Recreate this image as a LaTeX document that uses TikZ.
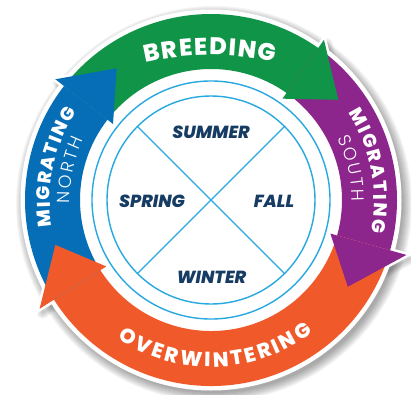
\documentclass[tikz,border=0pt]{standalone}
\usepackage{fontspec}
\setmainfont{Poppins}
\newfontfamily\lightfont{Poppins Light}
\newfontfamily\heavyfont{Poppins ExtraBold}[ItalicFont={Poppins ExtraBold Italic}]
\usetikzlibrary{decorations.text}

\definecolor{breedgreen}{RGB}{16,148,72}
\definecolor{northblue}{RGB}{6,110,182}
\definecolor{southpurple}{RGB}{140,38,140}
\definecolor{winterorange}{RGB}{240,90,42}
\definecolor{seasonnavy}{RGB}{22,60,100}
\definecolor{ringline}{RGB}{40,168,224}

\tikzset{
  arctext/.style={decorate, decoration={text along path, text align=fit to path, text={#1}}},
  seasonlabel/.style={text=seasonnavy, font=\heavyfont\itshape\fontsize{17.5}{18}\selectfont, anchor=base, inner sep=0pt},
  thinring/.style={draw=ringline, line width=1.4pt},
  headrim/.style={draw=white, line width=5pt, line join=miter, miter limit=6}
}

% band between two angles (clockwise) on the ring
\newcommand\ringband[3]{%
  \fill[#1] (#2:186) arc[start angle=#2, end angle=#3, radius=186]
        -- (#3:131) arc[start angle=#3, end angle=#2, radius=131] -- cycle;}
% arrow head: barb angle, tip angle, outer barb radius
\newcommand\headpath[3]{(#1:#3) -- (#2:162) -- (#1:124) -- cycle}

\begin{document}
\begin{tikzpicture}[x=1pt,y=1pt]
\useasboundingbox (-211,-194) rectangle (200,200);

% soft drop shadow, heavier towards the lower right
\foreach \k in {1,...,10}{
  \fill[black, opacity=0.04] (3,-4) circle[radius=188+\k*1.0];
  \begin{scope}[shift={(3,-4)}]
    \draw[black, opacity=0.025, line width=\k*1.2pt, line join=round] \headpath{54.8}{38.2}{196};
    \draw[black, opacity=0.025, line width=\k*1.2pt, line join=round] \headpath{142.2}{125.6}{197};
    \draw[black, opacity=0.025, line width=\k*1.2pt, line join=round] \headpath{-15.7}{-32.4}{203};
    \draw[black, opacity=0.025, line width=\k*1.2pt, line join=round] \headpath{212.4}{196.1}{203};
  \end{scope}
}

% white backing disk
\fill[white] (0,0) circle[radius=190.5];

% white rims round the arrow heads
\draw[headrim] \headpath{54.8}{38.2}{196};
\draw[headrim] \headpath{142.2}{125.6}{197};
\draw[headrim] \headpath{-15.7}{-32.4}{203};
\draw[headrim] \headpath{212.4}{196.1}{203};

% the four bands of the cycle
\ringband{breedgreen}{142.2}{54.8}
\ringband{southpurple}{54.8}{-15.7}
\ringband{winterorange}{-15.7}{-147.6}
\ringband{northblue}{212.4}{142.2}

% arrow heads on top
\fill[breedgreen]   \headpath{54.8}{38.2}{196};
\fill[northblue]    \headpath{142.2}{125.6}{197};
\fill[southpurple]  \headpath{-15.7}{-32.4}{203};
\fill[winterorange] \headpath{212.4}{196.1}{203};

% season dial
\draw[thinring] (0,0) circle[radius=119];
\draw[thinring] (0,0) circle[radius=104];
\draw[thinring] (135:104) -- (-45:104);
\draw[thinring] (45:104) -- (-135:104);

\node[seasonlabel] (summer) at (0,62) {SUMMER};
\node[seasonlabel] (spring) at (-59,-7) {SPRING};
\node[seasonlabel] (fall) at (63,-7) {FALL};
\node[seasonlabel] (winter) at (0.5,-83) {WINTER};

% band titles
\path[arctext={|\color{white}\heavyfont\fontsize{24}{24}\selectfont|BREEDING}]
  ([shift={(0,-142)}]103.2:287) arc[start angle=103.2, end angle=77.2, radius=287];
\path[arctext={|\color{white}\heavyfont\fontsize{20.5}{21}\selectfont|OVERWINTERING}]
  (236:167) arc[start angle=236, end angle=307.5, radius=167];
\path[arctext={|\color{white}\heavyfont\fontsize{18.5}{19}\selectfont|MIGRATING}]
  (189.5:161) arc[start angle=189.5, end angle=146.5, radius=161];
\path[arctext={|\color{white}\lightfont\fontsize{17.5}{18}\selectfont|NORTH}]
  (181.5:141) arc[start angle=181.5, end angle=154.5, radius=141];
\path[arctext={|\color{white}\heavyfont\fontsize{18.5}{19}\selectfont|MIGRATING}]
  (32.5:163) arc[start angle=32.5, end angle=-11.5, radius=163];
\path[arctext={|\color{white}\lightfont\fontsize{17.5}{18}\selectfont|SOUTH}]
  (26:141) arc[start angle=26, end angle=-0.5, radius=141];
\end{tikzpicture}
\end{document}
